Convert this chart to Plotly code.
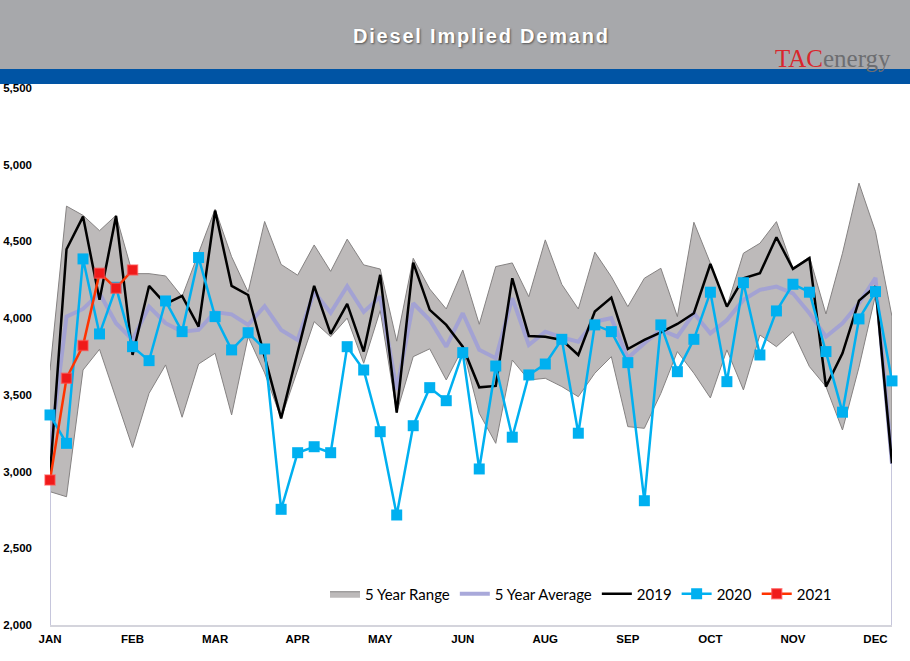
import plotly.graph_objects as go

# ---------------- data ----------------
weeks = list(range(52))
month_ticks = [0, 5, 10, 15, 20, 25, 30, 35, 40, 45, 50]
month_labels = ["JAN", "FEB", "MAR", "APR", "MAY", "JUN", "AUG", "SEP", "OCT", "NOV", "DEC"]
y_ticks = [2000, 2500, 3000, 3500, 4000, 4500, 5000, 5500]

range_max = [3660, 4730, 4670, 4570, 4670, 4290, 4290, 4275, 4140, 4430,
             4710, 4400, 4170, 4630, 4350, 4280, 4477, 4305, 4515, 4347,
             4320, 3850, 4390, 4190, 4060, 4314, 3960, 4336, 4360, 4140,
             4510, 4220, 4060, 4430, 4270, 4075, 4260, 4325, 4010, 4625,
             4358, 4075, 4423, 4488, 4629, 4325, 4400, 4027, 4423, 4880,
             4564, 4010]
range_min = [2869, 2836, 3662, 3797, 3480, 3157, 3510, 3695, 3354, 3701,
             3771, 3369, 3879, 3643, 3347, 3662, 3977, 3879, 4000, 3706,
             4050, 3384, 3749, 3800, 3597, 3804, 3380, 3184, 3727, 3597,
             3608, 3554, 3488, 3641, 3749, 3293, 3282, 3510, 3782, 3641,
             3480, 3793, 3532, 3890, 3814, 3912, 3684, 3554, 3271, 3680,
             4150, 3050]
avg5 = [3130, 4010, 4060, 4162, 3967, 3858, 4075, 3967, 3912, 3923,
        4040, 4025, 3956, 4078, 3923, 3858, 4170, 4035, 4208, 4040,
        4140, 3532, 4097, 3988, 3814, 4032, 3793, 3739, 4130, 3825,
        3912, 3875, 3847, 3977, 4000, 3740, 3836, 3923, 3879, 4032,
        3901, 3988, 4119, 4184, 4206, 4162, 4032, 3879, 3967, 4097,
        4262, 3050]
y2019 = [2980, 4449, 4662, 4119, 4666, 3760, 4210, 4093, 4145, 3945,
         4701, 4210, 4151, 3750, 3347, 3780, 4210, 3897, 4093, 3782,
         4282, 3384, 4362, 4054, 3956, 3814, 3549, 3558, 4260, 3884,
         3879, 3858, 3760, 4043, 4134, 3799, 3858, 3908, 3962, 4032,
         4353, 4075, 4260, 4293, 4527, 4321, 4391, 3554, 3771, 4114,
         4206, 3054]
y2020 = [3369, 3184, 4386, 3897, 4201, 3814, 3723, 4112, 3912, 4395,
         4010, 3793, 3905, 3799, 2754, 3123, 3162, 3123, 3814, 3662,
         3260, 2717, 3299, 3547, 3462, 3775, 3017, 3688, 3224, 3630,
         3701, 3862, 3250, 3956, 3912, 3710, 2810, 3956, 3651, 3862,
         4169, 3586, 4231, 3760, 4047, 4221, 4169, 3782, 3387, 3995,
         4173, 3591]
y2021 = [2945, 3608, 3821, 4293, 4195, 4314]

# ---------------- figure ----------------
W, H = 910, 661
ML, MR, MT, MB = 50, 18, 88, 36
PW, PH = W - ML - MR, H - MT - MB


def px_x(px):
    return (px - ML) / PW


def px_y(py):
    return (H - MB - py) / PH


fig = go.Figure()

# 5 year range band
fig.add_trace(go.Scatter(
    x=weeks + weeks[::-1], y=range_max + range_min[::-1],
    fill="toself", fillcolor="#bdbaba", mode="lines",
    line=dict(color="#858282", width=1), name="5 Year Range",
    hoverinfo="skip"))

# light edges of the average at both ends
fig.add_trace(go.Scatter(
    x=[weeks[0], weeks[0], None, weeks[-1], weeks[-1]],
    y=[y_ticks[0], avg5[0], None, y_ticks[0], avg5[-1]],
    mode="lines", line=dict(color="#c6c6dc", width=2),
    showlegend=False, hoverinfo="skip", cliponaxis=False))

fig.add_trace(go.Scatter(
    x=weeks, y=avg5, mode="lines", name="5 Year Average",
    line=dict(color="rgba(160,160,214,0.9)", width=4)))

fig.add_trace(go.Scatter(
    x=weeks, y=y2019, mode="lines", name="2019",
    line=dict(color="#000000", width=2.5)))

fig.add_trace(go.Scatter(
    x=weeks, y=y2020, mode="lines+markers", name="2020",
    line=dict(color="#00b0f0", width=2.5),
    marker=dict(symbol="square", size=11, color="#00b0f0"),
    cliponaxis=False))

fig.add_trace(go.Scatter(
    x=weeks[:len(y2021)], y=y2021, mode="lines+markers", name="2021",
    line=dict(color="#ff3300", width=2.5),
    marker=dict(symbol="square", size=10, color="#f01a1a",
                line=dict(color="rgba(255,80,80,0.6)", width=1.5)),
    cliponaxis=False))

shapes = [
    dict(type="rect", xref="paper", yref="paper",
         x0=px_x(-5), x1=px_x(W + 5), y0=px_y(69), y1=px_y(-5),
         fillcolor="#a7a8ab", line=dict(width=0), layer="below"),
    dict(type="rect", xref="paper", yref="paper",
         x0=px_x(-5), x1=px_x(W + 5), y0=px_y(84), y1=px_y(69),
         fillcolor="#0054a4", line=dict(width=0), layer="below"),
]

annotations = [
    dict(xref="paper", yref="paper", x=px_x(481), y=px_y(36),
         text="<span style='letter-spacing:1.8px'>Diesel Implied Demand</span>",
         showarrow=False, xanchor="center", yanchor="middle",
         font=dict(family="Liberation Sans, Arial", size=20, color="#ffffff",
                   weight="bold", shadow="1px 1px 2px #555555")),
    dict(xref="paper", yref="paper", x=px_x(893), y=px_y(59),
         text="<span style='color:#d9262c'>TAC</span><span style='color:#6d6e71'>energy</span>",
         showarrow=False, xanchor="right", yanchor="middle",
         font=dict(family="Liberation Serif, Times New Roman", size=25)),
]

fig.update_layout(
    width=W, height=H,
    margin=dict(l=ML, r=MR, t=MT, b=MB, pad=0),
    paper_bgcolor="#ffffff", plot_bgcolor="#ffffff",
    shapes=shapes, annotations=annotations,
    showlegend=True,
    legend=dict(orientation="h", x=px_x(325), y=px_y(594),
                xanchor="left", yanchor="middle",
                bgcolor="rgba(0,0,0,0)",
                font=dict(family="Lato, Liberation Sans", size=15, color="#000000"),
                itemwidth=30, traceorder="normal"),
    xaxis=dict(range=[weeks[0], weeks[-1]], tickmode="array",
               tickvals=month_ticks, ticktext=month_labels,
               showgrid=False, zeroline=False, ticks="", automargin=False,
               showline=True, linecolor="#d4d4dc", linewidth=2,
               ticklabelstandoff=2,
               tickfont=dict(family="Liberation Sans Narrow, Arial Narrow, Liberation Sans",
                             size=11.5, color="#000000", weight="bold")),
    yaxis=dict(range=[y_ticks[0], y_ticks[-1]], tickmode="array",
               tickvals=y_ticks, tickformat=",", automargin=False,
               showgrid=False, zeroline=False, ticks="", showline=False,
               ticklabelstandoff=17,
               tickfont=dict(family="Liberation Sans Narrow, Arial Narrow, Liberation Sans",
                             size=11.5, color="#000000", weight="bold")),
)

fig.write_html("out.html", config={"displayModeBar": False},
               post_script="document.body.style.margin='0px';")
